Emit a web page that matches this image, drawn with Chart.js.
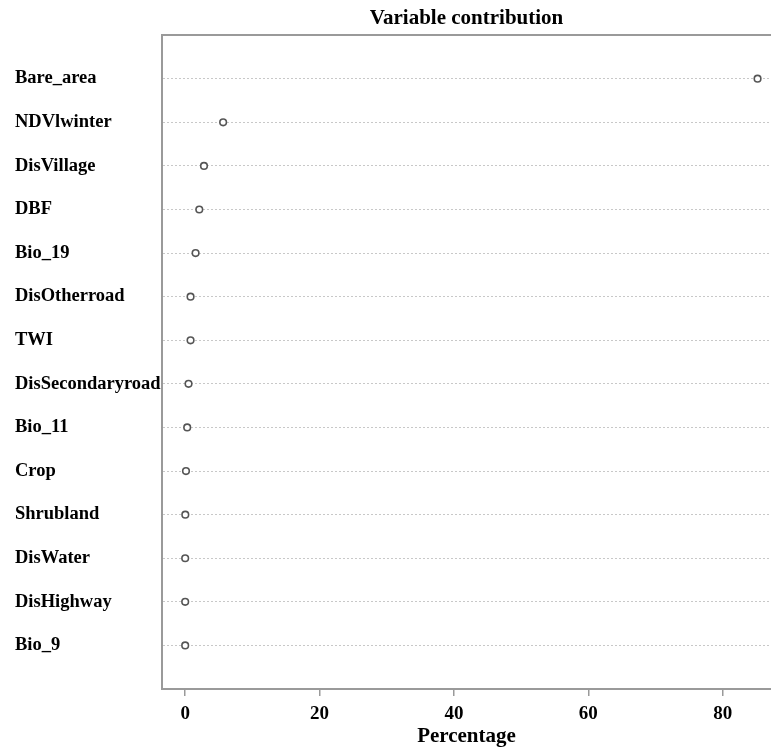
<!DOCTYPE html>
<html>
  <head>
    <title>Variable contribution</title>
    <script src="https://cdn.jsdelivr.net/npm/chart.js"></script>
    <style>
      html, body {
        margin: 0;
        padding: 0;
        background: #fff;
        overflow: hidden;
      }
      .chart-box {
        width: 771px;
        height: 747px;
      }
    </style>
  </head>
  <body>
    <div class="chart-box">
      <canvas id="contribChart"></canvas>
    </div>
    <script>
      // variables, top to bottom
      var variables = ['Bare_area', 'NDVlwinter', 'DisVillage', 'DBF', 'Bio_19', 'DisOtherroad', 'TWI',
        'DisSecondaryroad', 'Bio_11', 'Crop', 'Shrubland', 'DisWater', 'DisHighway', 'Bio_9'];
      // contribution (%)
      var contribution = [85.2, 5.65, 2.8, 2.1, 1.55, 0.8, 0.8, 0.5, 0.3, 0.12, 0.02, 0, 0, 0];
      var xTicks = [0, 20, 40, 60, 80];

      var serif = "'Liberation Serif', 'Times New Roman', serif";
      var axisGray = '#9a9a9a';

      var points = contribution.map(function(v, i) {
        return { x: v, y: i + 1 };
      });

      new Chart(document.getElementById('contribChart').getContext('2d'), {
        type: 'scatter',
        data: {
          datasets: [{
            label: 'Percentage',
            data: points,
            pointRadius: 3.3,
            pointBorderWidth: 1.6,
            pointBorderColor: '#555',
            pointBackgroundColor: '#fff'
          }]
        },
        options: {
          responsive: true,
          maintainAspectRatio: false,
          animation: false,
          layout: {
            autoPadding: false,
            padding: { left: 15, right: 0, top: 0, bottom: 0 }
          },
          plugins: {
            legend: { display: false },
            tooltip: { enabled: false },
            title: { display: false }
          },
          scales: {
            x: {
              type: 'linear',
              position: 'bottom',
              min: -3.45,
              max: 87.2,
              afterBuildTicks: function(scale) {
                scale.ticks = xTicks.map(function(v) { return { value: v }; });
              },
              grid: {
                drawOnChartArea: false,
                drawTicks: true,
                tickLength: 7,
                color: axisGray,
                lineWidth: 1.5
              },
              border: { display: true, color: axisGray, width: 2 },
              ticks: {
                color: '#000',
                padding: 8,
                font: { family: serif, size: 19, weight: 'bold', lineHeight: 1.05 }
              },
              title: {
                display: true,
                text: 'Percentage',
                color: '#000',
                font: { family: serif, size: 21, weight: 'bold', lineHeight: 1.0 },
                padding: { top: -6, bottom: 0 }
              }
            },
            // top frame line, also carries the chart title centred over the plot
            x2: {
              type: 'linear',
              position: 'top',
              min: -3.45,
              max: 87.2,
              grid: { display: false, drawTicks: false },
              ticks: { display: false },
              border: { display: true, color: axisGray, width: 2 },
              title: {
                display: true,
                text: 'Variable contribution',
                color: '#000',
                font: { family: serif, size: 21, weight: 'bold', lineHeight: 1.1 },
                padding: { top: 7, bottom: 5 }
              }
            },
            y: {
              type: 'linear',
              reverse: true,
              min: 0,
              max: 15,
              afterBuildTicks: function(scale) {
                scale.ticks = variables.map(function(v, i) { return { value: i + 1 }; });
              },
              afterFit: function(scale) {
                scale.width = 147;
              },
              grid: {
                color: '#c8c8c8',
                lineWidth: 1,
                drawTicks: false
              },
              border: { display: true, color: axisGray, width: 2, dash: [2, 2] },
              ticks: {
                crossAlign: 'far',
                color: '#000',
                font: { family: serif, size: 18.5, weight: 'bold' },
                callback: function(value) {
                  return variables[value - 1] || '';
                }
              }
            }
          }
        }
      });
    </script>
  </body>
</html>
